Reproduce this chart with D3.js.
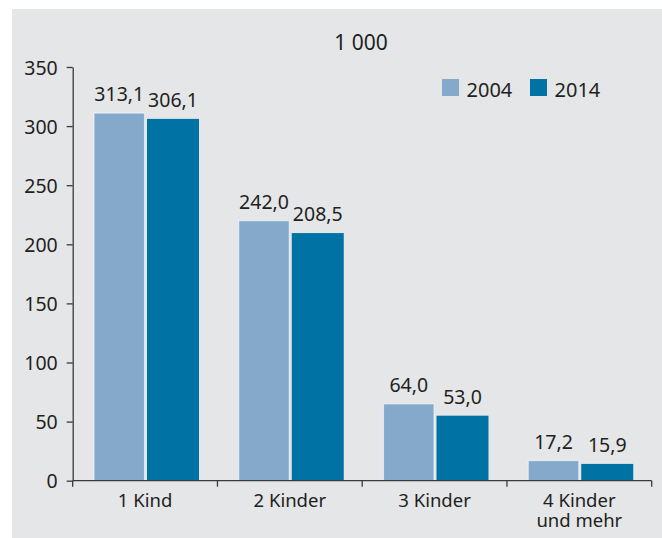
<!DOCTYPE html>
<html><head><meta charset="utf-8">
<script src="https://cdn.jsdelivr.net/npm/d3@7"></script>
<style>
html,body{margin:0;padding:0;background:#fff;}
svg text{font-family:"Noto Sans","Open Sans",sans-serif;fill:#231f20;}
</style></head>
<body><svg id="c" width="662" height="538"></svg>
<script>
const categories = [["1 Kind"], ["2 Kinder"], ["3 Kinder"], ["4 Kinder", "und mehr"]];
const seriesNames = ["2004", "2014"];
const values2004 = [311, 220, 65, 17];
const values2014 = [306.1, 209.5, 55, 14.2];
const labels2004 = ["313,1", "242,0", "64,0", "17,2"];
const labels2014 = ["306,1", "208,5", "53,0", "15,9"];
const yTicks = [0, 50, 100, 150, 200, 250, 300, 350];
const unitLabel = "1 000";
const colors = ["#84a9ca", "#0073a4"];
const FS = 19.5;   // numbers
const FC = 18.5;   // category labels

const svg = d3.select("#c");
svg.append("rect").attr("x", 12).attr("y", 9).attr("width", 650).attr("height", 529).attr("fill", "#e5e6e8");

const x0 = d3.scaleBand().domain(d3.range(categories.length)).range([72.7, 651.7]).padding(0);
const y = d3.scaleLinear().domain([0, 350]).range([480.7, 67]);

svg.append("text").attr("x", 361).attr("y", 49.5).attr("text-anchor", "middle").attr("font-size", 21).text(unitLabel);

const data = categories.map((c, i) => ({i, v: [values2004[i], values2014[i]], l: [labels2004[i], labels2014[i]]}));
const offsets = [{x: 21.3, w: 50.5}, {x: 74.3, w: 52}];

const g = svg.append("g");
data.forEach(d => {
  const bx = x0(d.i);
  d.v.forEach((v, s) => {
    g.append("rect")
      .attr("x", bx + offsets[s].x).attr("y", y(v))
      .attr("width", offsets[s].w).attr("height", y(0) - y(v))
      .attr("fill", colors[s])
      .attr("stroke", s === 0 ? "rgba(255,255,255,0.55)" : "none")
      .attr("stroke-width", s === 0 ? 1.2 : 0);
    g.append("text")
      .attr("x", bx + offsets[s].x + offsets[s].w / 2)
      .attr("y", y(v) - 12)
      .attr("text-anchor", "middle").attr("font-size", FS)
      .text(d.l[s]);
  });
});

// y axis
const yAxis = d3.axisLeft(y).tickValues(yTicks).tickSize(6).tickSizeOuter(0).tickFormat(d3.format("d"));
const ya = svg.append("g").attr("transform", "translate(72.7,0)").call(yAxis);
ya.select(".domain").attr("stroke", "#3a3a3a").attr("stroke-width", 1.3);
ya.selectAll(".tick line").attr("stroke", "#3a3a3a").attr("stroke-width", 1.3);
ya.selectAll(".tick text").attr("font-size", FS).attr("font-family", "Noto Sans").attr("fill", "#231f20").attr("x", -15).attr("dy", "0.36em");

// x axis
const xa = svg.append("g").attr("transform", "translate(0,480.7)");
xa.append("line").attr("x1", 72.7).attr("x2", 651.7).attr("y1", 0).attr("y2", 0).attr("stroke", "#3a3a3a").attr("stroke-width", 1.3);
const bounds = d3.range(categories.length + 1).map(i => i < categories.length ? x0(i) : x0(i - 1) + x0.bandwidth());
bounds.forEach(b => xa.append("line").attr("x1", b).attr("x2", b).attr("y1", 0).attr("y2", 6).attr("stroke", "#3a3a3a").attr("stroke-width", 1.3));
categories.forEach((c, i) => {
  c.forEach((line, k) => xa.append("text")
    .attr("x", x0(i) + x0.bandwidth() / 2).attr("y", 26.5 + k * 20)
    .attr("text-anchor", "middle").attr("font-size", FC).text(line));
});

// legend
const legX = [442, 530];
seriesNames.forEach((n, s) => {
  svg.append("rect").attr("x", legX[s]).attr("y", 79).attr("width", 17).attr("height", 17).attr("fill", colors[s]);
  svg.append("text").attr("x", legX[s] + 24.5).attr("y", 96.5).attr("font-size", 20).text(n);
});
</script></body></html>
